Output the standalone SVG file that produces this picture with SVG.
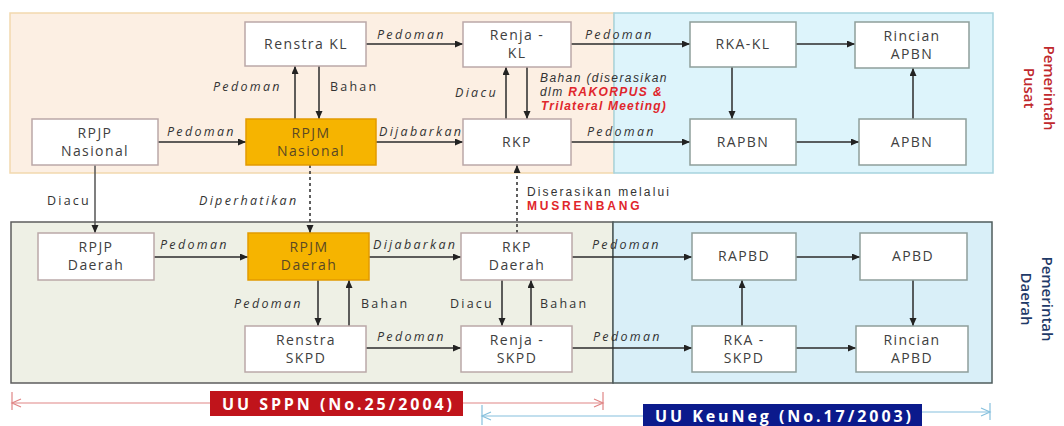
<svg xmlns="http://www.w3.org/2000/svg" width="1064" height="426" viewBox="0 0 1064 426">
<style>
text{font-family:"Open Sans","Liberation Sans",sans-serif}
.box{fill:#fff;stroke:#baa8a8;stroke-width:1.5}
.boxb{fill:#fff;stroke:#8e9e9b;stroke-width:1.5}
.boxo{fill:#f6b400;stroke:#e29a00;stroke-width:1.5}
.nt{font-size:14px;fill:#404040;letter-spacing:1.4px;text-anchor:middle}
.nto{font-size:14px;fill:#5a4824;letter-spacing:1.4px;text-anchor:middle}
.lb{font-size:12.5px;font-style:italic;fill:#333;letter-spacing:2.3px}
.lu{font-size:12.5px;fill:#333;letter-spacing:2.2px}
.sm{font-family:"Liberation Sans",sans-serif;font-size:12px;fill:#333}
.red{fill:#e0262c}
.con line{stroke:#2b2b2b;stroke-width:1.5;marker-end:url(#ah)}
.dash{stroke-dasharray:3 3}
.side{font-size:15px;font-weight:600;text-anchor:middle}
</style>
<defs>
<marker id="ah" markerUnits="userSpaceOnUse" markerWidth="9" markerHeight="8" refX="8" refY="3.5" orient="auto"><path d="M0,0 L8,3.5 L0,7 z" fill="#222"/></marker>
<marker id="ar" markerUnits="userSpaceOnUse" markerWidth="12" markerHeight="10" refX="10" refY="5" orient="auto"><path d="M1,1 L10,5 L1,9" fill="none" stroke="#e08585" stroke-width="1.2"/></marker>
<marker id="ab" markerUnits="userSpaceOnUse" markerWidth="12" markerHeight="10" refX="10" refY="5" orient="auto"><path d="M1,1 L10,5 L1,9" fill="none" stroke="#86c0dd" stroke-width="1.2"/></marker>
</defs>
<rect width="1064" height="426" fill="#fff"/>
<g id="panels">
<rect x="10" y="13" width="604" height="160" fill="#fcefe3" stroke="#f2d9ae" stroke-width="1.5"/>
<rect x="614" y="13" width="379" height="160" fill="#ddf4fb" stroke="#a6d3de" stroke-width="1.5"/>
<rect x="11" y="222" width="602" height="161" fill="#eef0e5" stroke="#5d5d5d" stroke-width="1.5"/>
<rect x="613" y="222" width="379" height="161" fill="#d9eff8" stroke="#4f5c5c" stroke-width="1.5"/>
</g>
<g id="side-labels">
<text class="side" fill="#c0282d" transform="translate(1044,88) rotate(90)">Pemerintah</text>
<text class="side" fill="#c0282d" transform="translate(1024,88) rotate(90)">Pusat</text>
<text class="side" fill="#1f3a68" transform="translate(1042,299) rotate(90)">Pemerintah</text>
<text class="side" fill="#1f3a68" transform="translate(1021,299) rotate(90)">Daerah</text>
</g>
<g id="legend">
<line x1="210" y1="403" x2="12" y2="403" stroke="#e08585" stroke-width="1.2" marker-end="url(#ar)"/>
<line x1="12" y1="392" x2="12" y2="410" stroke="#e08585" stroke-width="1.2"/>
<line x1="463" y1="403" x2="603" y2="403" stroke="#e08585" stroke-width="1.2" marker-end="url(#ar)"/>
<line x1="603" y1="392" x2="603" y2="410" stroke="#e08585" stroke-width="1.2"/>
<line x1="643" y1="416" x2="482" y2="416" stroke="#86c0dd" stroke-width="1.2" marker-end="url(#ab)"/>
<line x1="482" y1="405" x2="482" y2="425" stroke="#86c0dd" stroke-width="1.2"/>
<line x1="922" y1="412" x2="990" y2="412" stroke="#86c0dd" stroke-width="1.2" marker-end="url(#ab)"/>
<line x1="990" y1="403" x2="990" y2="420" stroke="#86c0dd" stroke-width="1.2"/>
<g id="uu-sppn"><rect x="210" y="391" width="253" height="25" fill="#c0141b"/>
<text x="222" y="410" font-size="16" font-weight="bold" fill="#fff" textLength="230" lengthAdjust="spacing">UU SPPN (No.25/2004)</text></g>
<g id="uu-keuneg"><rect x="643" y="404" width="279" height="24" fill="#0b1a8c"/>
<text x="655" y="422" font-size="16" font-weight="bold" fill="#fff" textLength="256" lengthAdjust="spacing">UU KeuNeg (No.17/2003)</text></g>
</g>
<g id="connectors" class="con">
<line x1="158" y1="142" x2="246" y2="142"/>
<line x1="295" y1="119" x2="295" y2="66"/>
<line x1="319" y1="66" x2="319" y2="119"/>
<line x1="366" y1="44" x2="463" y2="44"/>
<line x1="376" y1="142" x2="463" y2="142"/>
<line x1="506" y1="119" x2="506" y2="67"/>
<line x1="527" y1="67" x2="527" y2="119"/>
<line x1="571" y1="44" x2="690" y2="44"/>
<line x1="571" y1="142" x2="690" y2="142"/>
<line x1="732" y1="67" x2="732" y2="119"/>
<line x1="796" y1="44" x2="855" y2="44"/>
<line x1="796" y1="142" x2="859" y2="142"/>
<line x1="913" y1="119" x2="913" y2="68"/>
<line x1="95" y1="165" x2="95" y2="233" style="stroke:#555"/>
<line class="dash" x1="310" y1="165" x2="310" y2="233"/>
<line class="dash" x1="517" y1="233" x2="517" y2="165"/>
<line x1="154" y1="257" x2="248" y2="257"/>
<line x1="369" y1="257" x2="461" y2="257"/>
<line x1="318" y1="280" x2="318" y2="326"/>
<line x1="349" y1="326" x2="349" y2="280"/>
<line x1="366" y1="348" x2="461" y2="348"/>
<line x1="502" y1="280" x2="502" y2="326"/>
<line x1="531" y1="326" x2="531" y2="280"/>
<line x1="572" y1="257" x2="692" y2="257"/>
<line x1="572" y1="348" x2="692" y2="348"/>
<line x1="796" y1="257" x2="860" y2="257"/>
<line x1="913" y1="280" x2="913" y2="326"/>
<line x1="742" y1="326" x2="742" y2="280"/>
<line x1="796" y1="348" x2="856" y2="348"/>
</g>
<g id="connector-labels">
<text class="lb" x="167" y="136">Pedoman</text>
<text class="lb" x="213" y="91">Pedoman</text>
<text class="lu" x="330" y="91">Bahan</text>
<text class="lb" x="377" y="39">Pedoman</text>
<text class="lb" x="379" y="136">Dijabarkan</text>
<text class="lb" x="455" y="97">Diacu</text>
<text class="sm" x="540" y="82" font-style="italic" style="letter-spacing:1.4px">Bahan (diserasikan</text>
<text class="sm" x="540" y="96" font-style="italic" style="letter-spacing:1.4px">dlm <tspan class="red" font-weight="bold">RAKORPUS &amp;</tspan></text>
<text class="sm red" x="541" y="110" font-style="italic" font-weight="bold" style="letter-spacing:1.2px">Trilateral Meeting)</text>
<text class="lb" x="585" y="39">Pedoman</text>
<text class="lb" x="587" y="136">Pedoman</text>
<text class="lu" x="47" y="205">Diacu</text>
<text class="lb" x="199" y="205">Diperhatikan</text>
<text class="sm" x="527" y="196" style="letter-spacing:2.1px">Diserasikan melalui</text>
<text class="sm red" x="527" y="210" font-weight="bold" style="letter-spacing:2.8px">MUSRENBANG</text>
<text class="lb" x="160" y="249">Pedoman</text>
<text class="lb" x="373" y="249">Dijabarkan</text>
<text class="lb" x="234" y="308">Pedoman</text>
<text class="lu" x="361" y="308">Bahan</text>
<text class="lu" x="450" y="308">Diacu</text>
<text class="lu" x="540" y="308">Bahan</text>
<text class="lb" x="377" y="341">Pedoman</text>
<text class="lb" x="592" y="249">Pedoman</text>
<text class="lb" x="593" y="341">Pedoman</text>
</g>
<g id="n-renstra-kl"><rect class="box" x="245" y="22" width="121" height="44"/><text class="nt" x="306" y="49">Renstra KL</text></g>
<g id="n-rpjp-nasional"><rect class="box" x="32" y="119" width="126" height="46"/><text class="nt" x="95" y="138">RPJP</text><text class="nt" x="95" y="156">Nasional</text></g>
<g id="n-rpjm-nasional"><rect class="boxo" x="246" y="119" width="130" height="46"/><text class="nto" x="311" y="138">RPJM</text><text class="nto" x="311" y="156">Nasional</text></g>
<g id="n-renja-kl"><rect class="box" x="463" y="22" width="108" height="45"/><text class="nt" x="517" y="40">Renja -</text><text class="nt" x="517" y="58">KL</text></g>
<g id="n-rkp"><rect class="box" x="463" y="119" width="108" height="46"/><text class="nt" x="517" y="147">RKP</text></g>
<g id="n-rka-kl"><rect class="boxb" x="690" y="22" width="106" height="45"/><text class="nt" x="743" y="49">RKA-KL</text></g>
<g id="n-rincian-apbn"><rect class="boxb" x="855" y="22" width="114" height="46"/><text class="nt" x="912" y="41">Rincian</text><text class="nt" x="912" y="59">APBN</text></g>
<g id="n-rapbn"><rect class="boxb" x="690" y="119" width="106" height="46"/><text class="nt" x="743" y="147">RAPBN</text></g>
<g id="n-apbn"><rect class="boxb" x="859" y="119" width="107" height="46"/><text class="nt" x="912" y="147">APBN</text></g>
<g id="n-rpjp-daerah"><rect class="box" x="38" y="233" width="116" height="47"/><text class="nt" x="96" y="252">RPJP</text><text class="nt" x="96" y="270">Daerah</text></g>
<g id="n-rpjm-daerah"><rect class="boxo" x="248" y="233" width="121" height="47"/><text class="nto" x="309" y="252">RPJM</text><text class="nto" x="309" y="270">Daerah</text></g>
<g id="n-renstra-skpd"><rect class="box" x="245" y="326" width="121" height="46"/><text class="nt" x="306" y="345">Renstra</text><text class="nt" x="306" y="363">SKPD</text></g>
<g id="n-rkp-daerah"><rect class="box" x="461" y="233" width="111" height="47"/><text class="nt" x="517" y="252">RKP</text><text class="nt" x="517" y="270">Daerah</text></g>
<g id="n-renja-skpd"><rect class="box" x="461" y="326" width="111" height="46"/><text class="nt" x="517" y="345">Renja -</text><text class="nt" x="517" y="363">SKPD</text></g>
<g id="n-rapbd"><rect class="boxb" x="692" y="233" width="104" height="47"/><text class="nt" x="744" y="261">RAPBD</text></g>
<g id="n-apbd"><rect class="boxb" x="860" y="233" width="107" height="47"/><text class="nt" x="913" y="261">APBD</text></g>
<g id="n-rka-skpd"><rect class="boxb" x="692" y="326" width="104" height="46"/><text class="nt" x="744" y="345">RKA -</text><text class="nt" x="744" y="363">SKPD</text></g>
<g id="n-rincian-apbd"><rect class="boxb" x="856" y="326" width="112" height="46"/><text class="nt" x="912" y="345">Rincian</text><text class="nt" x="912" y="363">APBD</text></g>
</svg>
